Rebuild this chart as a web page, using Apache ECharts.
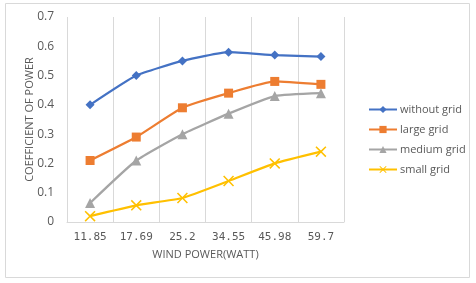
<!DOCTYPE html>
<html><head><meta charset="utf-8">
<script src="https://cdn.jsdelivr.net/npm/echarts@6/dist/echarts.min.js"></script>
<style>html,body{margin:0;padding:0;background:#fff}#c{width:476px;height:283px}</style>
</head><body><div id="c"></div>
<script>
const categories = ['11.85', '17.69', '25.2', '34.55', '45.98', '59.7'];
const withoutGrid = [0.40, 0.50, 0.55, 0.58, 0.57, 0.565];
const largeGrid = [0.21, 0.29, 0.39, 0.44, 0.48, 0.47];
const mediumGrid = [0.065, 0.21, 0.30, 0.37, 0.43, 0.44];
const smallGrid = [0.02, 0.057, 0.082, 0.14, 0.20, 0.24];
const yTicks = ['0', '0.1', '0.2', '0.3', '0.4', '0.5', '0.6', '0.7'];
const seriesNames = ['without grid', 'large grid', 'medium grid', 'small grid'];

const colors = ['#4472C4', '#ED7D31', '#A5A5A5', '#FFC000'];
const xSym = 'path://M0,1L1,0L5,4L9,0L10,1L6,5L10,9L9,10L5,6L1,10L0,9L4,5Z';
const symbols = ['diamond', 'rect', 'triangle', xSym];
const sizes = [9, 9, 10, 11];
const dataSets = [withoutGrid, largeGrid, mediumGrid, smallGrid];

const chart = echarts.init(document.getElementById('c'));
chart.setOption({
  animation: false,
  color: colors,
  graphic: [{type: 'rect', shape: {x: 5.5, y: 3.5, width: 464, height: 274}, style: {fill: 'none', stroke: '#d9d9d9', lineWidth: 1}, silent: true}],
  grid: {left: 67, right: 132, top: 17, bottom: 61, containLabel: false},
  legend: {
    orient: 'vertical', left: 363, top: 99, itemWidth: 28, itemHeight: 9, itemGap: 9,
    data: seriesNames,
    textStyle: {color: '#595959', fontSize: 11, fontFamily: 'Open Sans', padding: [0, 0, 0, -2]}
  },
  xAxis: {
    type: 'category', data: categories, boundaryGap: true,
    name: 'WIND POWER(WATT)', nameLocation: 'middle', nameGap: 27,
    nameTextStyle: {color: '#595959', fontSize: 11, fontFamily: 'Open Sans'},
    axisLine: {show: true, lineStyle: {color: '#d9d9d9'}},
    axisTick: {show: false},
    axisLabel: {color: '#595959', fontSize: 11, fontFamily: 'DejaVu Sans Mono', margin: 10},
    splitLine: {show: true, lineStyle: {color: '#d9d9d9'}}
  },
  yAxis: {
    type: 'value', min: 0, max: 0.7, interval: 0.1,
    name: 'COEFFICIENT OF POWER', nameLocation: 'middle', nameGap: 32, nameRotate: 90,
    nameMoveOverlap: false,
    nameTextStyle: {color: '#595959', fontSize: 11, fontFamily: 'Open Sans'},
    axisLine: {show: false}, axisTick: {show: false},
    axisLabel: {color: '#595959', fontSize: 12, fontFamily: 'Open Sans', margin: 13,
      formatter: (v) => yTicks[Math.round(v * 10)]},
    splitLine: {show: false}
  },
  series: dataSets.map((d, i) => ({
    name: seriesNames[i], type: 'line', data: d,
    symbol: symbols[i], symbolSize: sizes[i], smooth: 0.15,
    lineStyle: {width: 2.25, color: colors[i]},
    itemStyle: {color: colors[i]}
  }))
});
</script></body></html>
